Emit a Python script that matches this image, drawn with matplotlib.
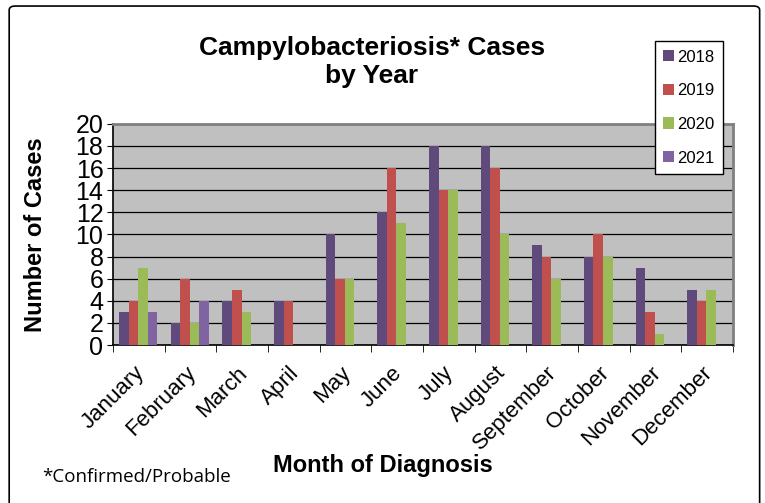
import numpy as np
import matplotlib.pyplot as plt
from matplotlib.patches import FancyBboxPatch
from matplotlib.transforms import ScaledTranslation

MONTHS = ['January', 'February', 'March', 'April', 'May', 'June', 'July',
          'August', 'September', 'October', 'November', 'December']
YEARS = ['2018', '2019', '2020', '2021']
cases_2018 = [3, 2, 4, 4, 10, 12, 18, 18, 9, 8, 7, 5]
cases_2019 = [4, 6, 5, 4, 6, 16, 14, 16, 8, 10, 3, 4]
cases_2020 = [7, 2, 3, 0, 6, 11, 14, 10, 6, 8, 1, 5]
cases_2021 = [3, 4, 0, 0, 0, 0, 0, 0, 0, 0, 0, 0]
COLORS = ['#604A7B', '#C0504D', '#9BBB59', '#8064A2']

plt.rcParams['font.family'] = ['Liberation Sans', 'DejaVu Sans']

fig = plt.figure(figsize=(7.65, 5.03), dpi=100)

# outer chart border
border = FancyBboxPatch((0.012, -0.05), 0.981, 1.038, transform=fig.transFigure,
                        boxstyle='round,pad=0,rounding_size=0.008',
                        facecolor='none', edgecolor='black', linewidth=1.2)
fig.patches.append(border)

ax = fig.add_axes([0.148, 0.314, 0.81, 0.44])
ax.set_facecolor('#C0C0C0')

x = np.arange(len(MONTHS))
width = 0.185
offset = 0.115
all_cases = [cases_2018, cases_2019, cases_2020, cases_2021]
for k, (year, vals) in enumerate(zip(YEARS, all_cases)):
    ax.bar(x + offset + k * width, vals, width, align='edge',
           color=COLORS[k], label=year, zorder=3)

ax.set_xlim(0, 12)
ax.set_ylim(0, 20)
ax.set_yticks(range(0, 21, 2))
ax.yaxis.grid(True, color='black', linewidth=0.9, zorder=0)
ax.tick_params(axis='y', labelsize=18, length=4, direction='out', pad=3)

# month labels centred in groups, tick marks at group boundaries
ax.set_xticks(x + 0.5)
ax.set_xticklabels(MONTHS, rotation=45, ha='right', rotation_mode='anchor', fontsize=16)
ax.tick_params(axis='x', which='major', length=0, pad=8)
ax.set_xticks(np.arange(0, 13), minor=True)
ax.tick_params(axis='x', which='minor', length=5, color='black')
shift = ScaledTranslation(-4 / 72, -4.5 / 72, fig.dpi_scale_trans)
for lab in ax.get_xticklabels():
    lab.set_transform(lab.get_transform() + shift)

for side in ['left', 'bottom']:
    ax.spines[side].set_color('black')
    ax.spines[side].set_linewidth(1.2)
for side in ['top', 'right']:
    ax.spines[side].set_color('#808080')
    ax.spines[side].set_linewidth(2)

fig.text(0.486, 0.877, 'Campylobacteriosis* Cases\nby Year', ha='center', va='center',
         fontsize=19, fontweight='bold', linespacing=1.2)
fig.text(0.046, 0.533, 'Number of Cases', rotation=90, ha='center', va='center',
         fontsize=17, fontweight='bold')
fig.text(0.5, 0.074, 'Month of Diagnosis', ha='center', va='center',
         fontsize=17, fontweight='bold')
fig.text(0.055, 0.052, '*Confirmed/Probable', ha='left', va='center',
         fontsize=13.5, family=['Open Sans', 'DejaVu Sans'])

leg = fig.legend(loc='upper left', bbox_to_anchor=(0.856, 0.918), fontsize=12,
                 handlelength=0.65, handleheight=0.65, handletextpad=0.2,
                 labelspacing=1.12, borderpad=0.5, borderaxespad=0,
                 fancybox=False, framealpha=1)
leg.get_frame().set_edgecolor('black')
leg.get_frame().set_linewidth(1.0)

plt.savefig('out.png', dpi=100)
